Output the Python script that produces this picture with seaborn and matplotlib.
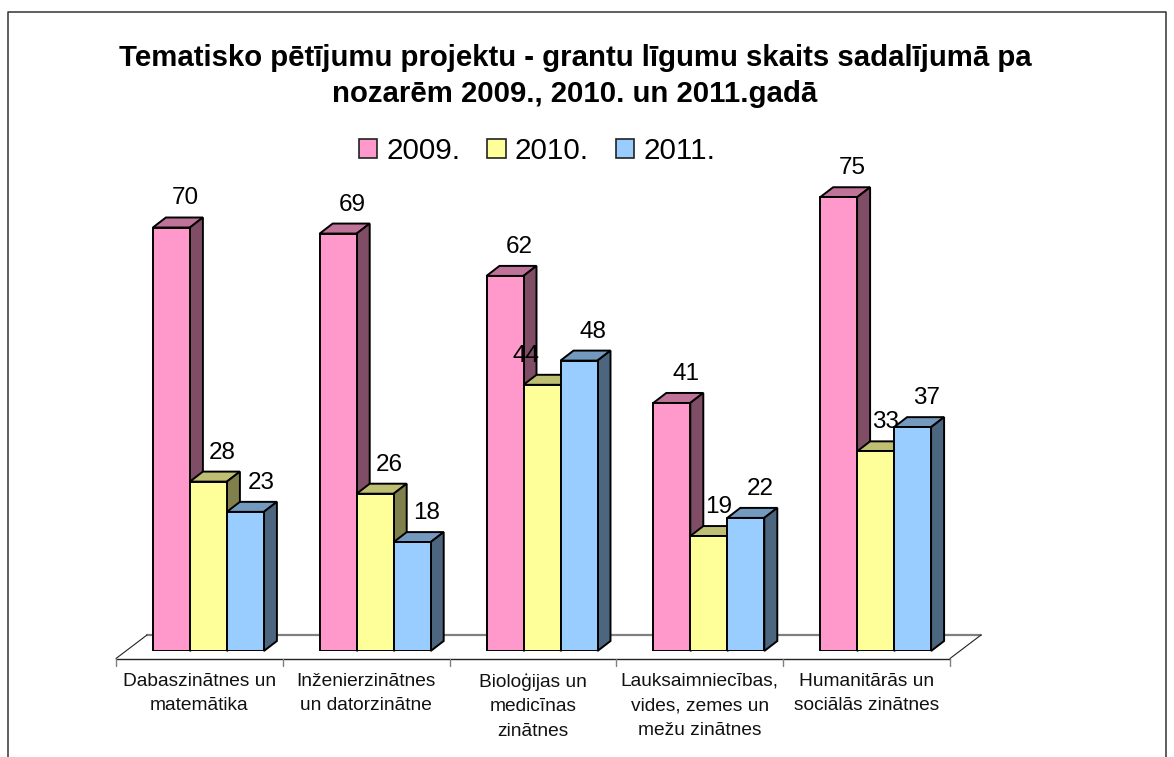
# -*- coding: utf-8 -*-
import matplotlib
matplotlib.use('Agg')
import pandas as pd
import seaborn as sns
import matplotlib.pyplot as plt
from matplotlib.lines import Line2D
from matplotlib.patches import Polygon
from matplotlib.transforms import ScaledTranslation
from matplotlib.colors import to_rgb

# dati
categories = ['Dabaszinātnes un\nmatemātika', 'Inženierzinātnes\nun datorzinātne',
              'Bioloģijas un\nmedicīnas\nzinātnes',
              'Lauksaimniecības,\nvides, zemes un\nmežu zinātnes',
              'Humanitārās un\nsociālās zinātnes']
years = ['2009.', '2010.', '2011.']
values_2009 = [70, 69, 62, 41, 75]
values_2010 = [28, 26, 44, 19, 33]
values_2011 = [23, 18, 48, 22, 37]
colors = ['#FF99CC', '#FFFF99', '#99CCFF']

W, H = 1174, 757
PX_PER_CAT = 166.8
PX_PER_VAL = 6.05
DEPTH_X, DEPTH_Y = 13, 10

df = pd.DataFrame({
    'nozare': categories * 3,
    'gads': [y for y in years for _ in categories],
    'skaits': values_2009 + values_2010 + values_2011,
})

sns.set_theme(style='white')
plt.rcParams['font.family'] = ['Liberation Sans', 'DejaVu Sans']

fig = plt.figure(figsize=(W / 100, H / 100), dpi=100)
ax = fig.add_axes([125 / W, 1 - 651 / H, 834 / W, 551 / H])
ax.patch.set_visible(False)


def px_line(xs, ys, **kw):
    fig.add_artist(Line2D([x / W for x in xs], [1 - y / H for y in ys], zorder=-1, **kw))


sns.barplot(data=df, x='nozare', y='skaits', hue='gads', palette=colors, width=111 / PX_PER_CAT,
            saturation=1, errorbar=None, edgecolor='black', linewidth=1.4, ax=ax)
ax.set_xlim(-0.5, 4.5)
ax.set_ylim(0, 551 / PX_PER_VAL)
ax.set_xlabel('')
ax.set_ylabel('')
ax.set_yticks([])
sns.despine(ax=ax, left=True, bottom=True)

# 3D malas katram stabiņam
dx = DEPTH_X / PX_PER_CAT
dy = DEPTH_Y / PX_PER_VAL
for i, cont in enumerate(ax.containers):
    rgb = to_rgb(colors[i])
    top_c = tuple(c * 0.75 for c in rgb)
    side_c = tuple(c * 0.5 for c in rgb)
    for bar in cont:
        x0, x1, h = bar.get_x(), bar.get_x() + bar.get_width(), bar.get_height()
        bar.set_zorder(4 + 2 * i)
        ax.add_patch(Polygon([(x0, h), (x0 + dx, h + dy), (x1 + dx, h + dy), (x1, h)], closed=True,
                             fc=top_c, ec='black', lw=1.4, zorder=3 + 2 * i, clip_on=False))
        ax.add_patch(Polygon([(x1, 0), (x1 + dx, dy), (x1 + dx, h + dy), (x1, h)], closed=True,
                             fc=side_c, ec='black', lw=1.4, zorder=3 + 2 * i, clip_on=False))
        # vērtības virs stabiņiem
        off_x = 14
        if h == 44:
            off_x = -16
        elif i == 1 and h in (19, 33):
            off_x = 10
        elif h == 23:
            off_x = 16
        ax.annotate(str(int(h)), ((x0 + x1) / 2, h), xytext=(off_x * 0.72, 29 * 0.72),
                    textcoords='offset points', ha='center', va='center', fontsize=17.5,
                    color='black', zorder=20, annotation_clip=False)

# kategoriju nosaukumi zem ass
ax.tick_params(axis='x', length=0, pad=15.5, labelsize=13.8, labelcolor='#111111')
shift = ScaledTranslation(-9 / 100, 0, fig.dpi_scale_trans)
for lab in ax.get_xticklabels():
    lab.set_transform(lab.get_transform() + shift)
    lab.set_linespacing(1.58)
    lab.set_va('top')

# grīda
px_line([147, 981], [635, 635], color='#808080', lw=1.6)
px_line([116, 950], [658.5, 658.5], color='#222222', lw=1.0)
px_line([116, 147], [658.5, 635], color='#222222', lw=0.8)
px_line([950, 981], [658.5, 635], color='#222222', lw=0.8)
for k in range(6):
    x_t = 116 + PX_PER_CAT * k
    px_line([x_t, x_t], [658.5, 665.5], color='#808080', lw=1.0)

# rāmis
px_line([8, 8, 1166, 1166], [757, 12, 12, 757], color='#333333', lw=1.1)

fig.text(575 / W, 1 - 76 / H, 'Tematisko pētījumu projektu - grantu līgumu skaits sadalījumā pa\n'
         'nozarēm 2009., 2010. un 2011.gadā', ha='center', va='center', fontsize=21.2,
         fontweight='bold', color='black', linespacing=1.39)

handles, labels = ax.get_legend_handles_labels()
leg = ax.legend(handles, labels, loc='center', bbox_to_anchor=(537 / W, 1 - 151 / H),
                bbox_transform=fig.transFigure, ncol=3, frameon=False, fontsize=21.3,
                handlelength=0.62, handleheight=0.62, handletextpad=0.3, columnspacing=0.92,
                borderpad=0, labelcolor='black')
for p in leg.get_patches():
    p.set_edgecolor('#222222')
    p.set_linewidth(1.2)
leg.set_zorder(30)

plt.savefig('out.png', dpi=100)
